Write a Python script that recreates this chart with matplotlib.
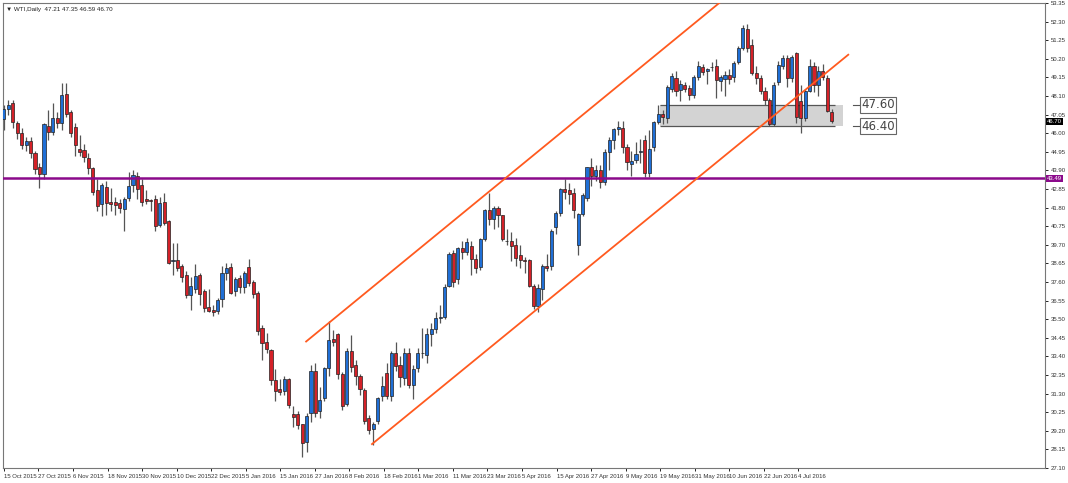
import matplotlib
matplotlib.use("Agg")
import matplotlib.pyplot as plt
import numpy as np

plt.rcParams['font.family'] = ['Liberation Sans', 'DejaVu Sans']

# WTI daily candles
opens = [46.78,47.39,47.73,46.55,45.99,45.31,45.54,44.87,44.08,43.69,
         46.38,46.05,46.83,46.55,48.24,47.17,46.33,45.09,45.03,44.58,
         44.02,42.79,42.00,42.95,42.11,42.11,42.06,41.72,42.34,43.07,
         43.57,43.07,42.28,42.22,42.28,40.82,42.11,41.04,38.80,38.85,
         38.51,38.01,36.88,37.22,38.01,37.11,36.21,36.04,35.99,36.66,
         38.12,38.46,37.11,37.84,37.33,38.46,37.62,37.00,35.03,34.24,
         33.74,32.05,31.55,31.43,32.11,30.14,30.14,29.58,28.57,30.20,
         32.56,30.31,31.04,32.73,34.36,34.64,32.39,30.70,33.68,32.89,
         32.28,31.49,29.92,29.30,29.75,31.15,32.44,31.15,33.62,32.89,
         32.16,33.62,31.77,32.73,33.57,33.46,34.64,34.97,35.59,35.65,
         37.39,39.25,37.78,39.53,39.30,39.64,38.91,38.46,40.03,41.66,
         41.16,41.77,41.38,39.92,39.92,39.69,39.13,38.85,38.85,37.39,
         36.27,37.22,38.51,38.51,40.71,41.49,42.84,42.79,42.62,39.69,
         41.44,42.34,44.08,43.57,43.91,43.24,44.92,45.60,46.21,46.27,
         45.20,44.25,44.47,44.92,45.60,43.74,45.20,46.66,47.11,46.83,
         48.52,49.14,48.46,48.74,48.57,48.18,49.19,49.75,49.53,49.75,
         49.81,48.97,49.08,49.30,49.19,50.04,50.82,51.89,50.99,49.42,
         49.14,48.41,47.90,46.50,48.91,49.81,50.26,49.14,50.54,47.79,
         46.83,48.41,49.81,48.74,49.53,49.14,47.21]
closes = [47.34,47.62,46.61,45.99,45.31,45.54,44.87,43.97,43.69,46.50,
          46.05,46.83,46.55,48.18,47.06,45.99,45.31,44.92,44.64,44.02,
          42.67,41.89,43.07,42.06,42.00,41.94,41.77,42.28,43.01,43.63,
          42.84,42.11,42.17,42.17,40.76,42.06,40.93,38.68,38.85,38.40,
          37.90,36.88,37.39,37.95,36.94,36.15,35.99,35.93,36.60,38.12,
          38.40,37.00,37.78,37.33,38.12,37.56,36.94,34.86,34.13,33.79,
          32.05,31.43,31.38,32.11,30.65,29.97,29.52,28.51,30.03,32.56,
          30.20,30.93,32.73,34.30,34.24,32.39,30.59,33.68,32.78,32.28,
          31.55,29.75,29.24,29.58,31.04,31.71,31.15,33.62,32.84,32.22,
          33.57,31.77,32.67,33.57,33.62,34.64,34.97,35.54,35.65,37.33,
          39.19,37.62,39.53,39.30,39.86,38.91,38.40,40.03,41.66,41.16,
          41.77,41.38,40.03,39.90,39.64,38.96,38.85,38.80,37.39,36.27,
          37.28,38.51,38.40,40.48,41.49,42.84,42.67,42.56,41.66,41.44,
          42.50,44.08,43.57,43.91,43.24,44.92,45.60,46.21,46.33,45.20,
          44.36,44.42,44.81,44.98,43.74,45.09,46.61,47.11,46.89,48.63,
          49.25,48.41,48.80,48.52,48.18,49.19,49.81,49.47,49.64,49.72,
          49.02,49.19,49.30,49.08,49.98,50.82,51.95,50.82,49.42,49.14,
          48.41,47.90,46.50,48.74,49.87,50.26,49.14,50.32,46.89,46.83,
          48.41,49.81,48.74,49.53,49.19,47.28,46.70]
highs = [47.6,47.9,47.85,46.7,46.3,45.8,45.8,45.0,44.3,46.6,
         47.3,47.7,47.2,48.85,48.85,47.3,46.6,45.9,45.4,44.9,
         44.1,43.4,43.2,43.3,42.9,42.4,42.3,42.4,43.8,43.9,
         43.8,43.4,42.8,42.3,42.5,42.4,42.6,41.1,39.8,39.8,
         38.6,38.2,37.9,38.6,38.1,37.2,37.2,36.3,36.7,38.5,
         38.7,38.7,37.9,38.0,38.2,38.9,37.7,37.1,35.2,34.7,
         33.8,32.7,32.1,32.3,32.2,30.6,30.3,29.6,30.2,32.9,
         33.0,31.7,32.8,35.4,34.9,34.7,32.5,33.9,34.6,33.2,
         32.4,31.6,30.1,29.7,31.1,32.3,33.0,33.7,34.2,33.4,
         33.9,33.9,32.9,33.9,35.0,35.0,35.3,35.9,36.3,37.5,
         39.3,39.4,39.6,39.9,40.1,39.9,39.2,40.1,41.7,42.6,
         41.9,41.9,41.4,40.6,40.4,40.1,39.7,39.0,38.9,37.5,
         37.5,38.6,39.2,40.6,41.6,42.9,43.4,43.2,42.9,41.5,
         42.6,44.1,44.6,44.2,44.2,45.1,45.8,46.3,46.7,46.7,
         45.4,45.0,45.5,45.7,45.9,46.2,46.7,47.6,47.3,48.7,
         49.4,49.5,49.0,48.9,48.7,49.3,50.1,49.9,49.7,50.0,
         50.2,49.3,49.5,49.6,50.1,50.9,52.1,52.15,51.3,49.8,
         49.3,48.6,48.0,48.9,50.1,50.4,50.4,50.4,50.6,48.7,
         48.5,50.2,50.0,49.8,49.9,49.3,47.35]
lows = [46.2,47.0,46.3,45.7,45.1,45.0,44.6,43.7,42.9,43.4,
        45.6,45.9,46.3,46.2,46.9,45.8,44.7,44.7,44.4,43.7,
        42.5,41.6,41.3,41.4,41.6,41.4,41.5,40.5,42.2,42.7,
        42.3,41.9,42.0,41.6,40.5,40.7,40.8,38.6,38.0,38.2,
        37.6,36.7,36.0,37.0,36.3,35.9,35.9,35.7,35.8,36.2,
        37.7,36.9,36.8,37.0,37.0,37.4,36.7,34.6,33.2,33.6,
        31.8,30.9,31.2,31.2,30.5,29.4,29.3,27.7,28.0,29.7,
        30.0,29.9,30.9,32.3,34.0,32.1,30.4,30.6,32.5,31.8,
        31.2,29.6,29.0,28.4,29.6,30.9,31.0,30.9,32.6,31.7,
        31.8,31.6,31.0,32.5,33.3,33.0,34.0,34.7,35.3,35.5,
        37.3,37.3,37.5,38.9,39.1,38.0,38.1,38.3,39.9,40.8,
        40.6,40.7,39.9,39.7,38.8,38.5,38.4,38.1,37.3,36.1,
        35.9,36.6,38.2,38.3,40.3,41.3,42.3,42.0,41.2,39.1,
        41.3,42.2,43.0,43.3,42.9,43.1,43.9,45.1,45.9,44.9,
        43.9,43.6,44.3,44.3,43.5,43.5,45.0,46.5,46.5,46.6,
        48.3,48.1,47.8,48.3,47.9,48.0,49.0,49.3,48.8,49.5,
        48.0,48.4,48.1,48.8,48.9,49.9,50.7,50.6,49.3,48.8,
        48.2,47.6,46.4,46.4,48.7,49.6,48.6,48.9,46.6,46.0,
        46.7,48.3,48.3,48.1,49.0,47.2,46.59]

date_labels = ["15 Oct 2015", "27 Oct 2015", "6 Nov 2015", "18 Nov 2015", "30 Nov 2015",
               "10 Dec 2015", "22 Dec 2015", "5 Jan 2016", "15 Jan 2016", "27 Jan 2016",
               "8 Feb 2016", "18 Feb 2016", "1 Mar 2016", "11 Mar 2016", "23 Mar 2016",
               "5 Apr 2016", "15 Apr 2016", "27 Apr 2016", "9 May 2016", "19 May 2016",
               "31 May 2016", "10 Jun 2016", "22 Jun 2016", "4 Jul 2016"]

support_level = 43.49
zone_top, zone_bottom = 47.60, 46.40
channel_lower = [(82.7, 28.45), (189.7, 50.43)]
channel_upper = [(67.9, 34.24), (161.0, 53.41)]

fig = plt.figure(figsize=(10.68, 4.83), dpi=100)
ax = fig.add_axes([3 / 1068, 15 / 483, 1042 / 1068, 465 / 483])

x = np.arange(len(opens))
o = np.array(opens); c = np.array(closes)
up = c >= o
ax.vlines(x, lows, highs, color="#555555", lw=0.9, zorder=2)
body_lo = np.minimum(o, c)
body_h = np.maximum(np.abs(c - o), 0.04)
ax.bar(x[up], body_h[up], bottom=body_lo[up], width=0.7, color="#1f6fd6",
       edgecolor="#222222", lw=0.5, zorder=3)
ax.bar(x[~up], body_h[~up], bottom=body_lo[~up], width=0.7, color="#d42128",
       edgecolor="#222222", lw=0.5, zorder=3)

# horizontal support and zone
ax.axhline(support_level, color="#8b0a8b", lw=1.8, zorder=4)
ax.add_patch(plt.Rectangle((147.5, zone_bottom), 41, zone_top - zone_bottom,
                           facecolor="#d3d3d3", edgecolor="none", zorder=1))
ax.hlines([zone_top, zone_bottom], 147.5, 186.8, color="#555555", lw=0.9, zorder=1.5)
for lvl in (zone_top, zone_bottom):
    ax.plot([190.8, 192.5], [lvl, lvl], color="#555555", lw=0.8)
    ax.text(192.6, lvl, f"{lvl:.2f}", fontsize=8.5, va="center", ha="left", color="#444444",
            family="DejaVu Sans",
            bbox=dict(boxstyle="square,pad=0.1", fc="white", ec="#666666", lw=0.8))

# channel
for seg in (channel_lower, channel_upper):
    ax.plot([seg[0][0], seg[1][0]], [seg[0][1], seg[1][1]], color="#ff5a1f", lw=1.3, zorder=5)

ax.set_xlim(-0.2, 233.9)
ax.set_ylim(27.22, 53.35)

yt = np.round(np.arange(27.10, 53.40, 1.05), 2)
ax.yaxis.tick_right()
ax.set_yticks(yt)
ax.set_yticklabels([f"{v:.2f}" for v in yt], fontsize=4.3, color="#333333")
ax.tick_params(axis="y", length=2, pad=2, width=0.6)
xt = np.arange(len(date_labels)) * 7.76
ax.set_xticks(xt)
ax.set_xticklabels(date_labels, fontsize=4.3, ha="left", color="#333333")
ax.tick_params(axis="x", length=2, pad=2, width=0.6)
for s in ax.spines.values():
    s.set_color("#777777"); s.set_linewidth(0.8)

# price tags on axis
for val, fc in ((closes[-1], "black"), (support_level, "#8b0a8b")):
    ax.text(1.002, (val - 27.22) / (53.35 - 27.22), f"{val:.2f}", transform=ax.transAxes,
            fontsize=4.3, color="white", va="center", ha="left",
            bbox=dict(boxstyle="square,pad=0.15", fc=fc, ec="none"))

ax.text(0.003, 0.992, "\u25bc WTI,Daily  47.21 47.35 46.59 46.70", transform=ax.transAxes,
        fontsize=4.5, va="top", ha="left", color="#222222", family=["Liberation Sans", "DejaVu Sans"])

fig.savefig("out.png", dpi=100)
